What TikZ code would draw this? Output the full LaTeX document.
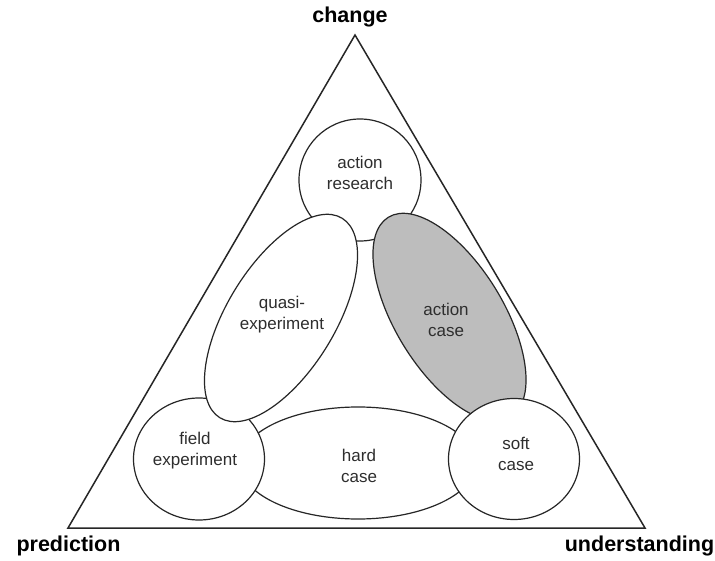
\documentclass[tikz,border=0pt]{standalone}
\usepackage{fontspec}
\setmainfont{Liberation Sans}
\definecolor{lineclr}{HTML}{262626}
\definecolor{txtclr}{HTML}{2E2E2E}
\definecolor{shade}{HTML}{BDBDBD}
\tikzset{
  outline/.style={draw=lineclr, line width=1.2pt, fill=white},
  inner/.style={text=txtclr, align=center, font=\fontsize{17}{21}\selectfont, inner sep=0pt},
  corner/.style={text=black, font=\bfseries\fontsize{21.5}{24}\selectfont, inner sep=0pt}
}
\begin{document}
\begin{tikzpicture}[x=1pt,y=1pt]
\useasboundingbox (0,0) rectangle (715,560);
\fill[white] (0,0) rectangle (715,560);
% triangle
\coordinate (apex) at (355,525);
\coordinate (bl) at (68,32);
\coordinate (br) at (645,32);
\draw[draw=lineclr, line width=1.5pt, line join=miter] (apex) -- (bl) -- (br) -- cycle;
% shapes (back to front)
\draw[outline] (360,380) ellipse [x radius=61, y radius=61];
\draw[outline] (358,97) ellipse [x radius=118, y radius=56];
\draw[outline] (199,101) ellipse [x radius=65.5, y radius=61];
\draw[outline, rotate around={58.5:(281,242)}] (281,242) ellipse [x radius=117, y radius=54];
\draw[outline, fill=shade, rotate around={121.5:(449.5,243)}] (449.5,243) ellipse [x radius=117, y radius=54];
\draw[outline] (514,101) ellipse [x radius=65.5, y radius=60.5];
% texts
\node[inner] (ar) at (360,387) {action\\research};
\node[inner] (qe) at (282,245) {quasi-\\experiment};
\node[inner] (ac) at (446,240) {action\\case};
\node[inner] (fe) at (195,109) {field\\experiment};
\node[inner] (hc) at (359,94) {hard\\case};
\node[inner] (sc) at (516,106) {soft\\case};
\node[corner] (chg) at (350,543) {change};
\node[corner] (pred) at (68.5,14) {prediction};
\node[corner] (und) at (639.5,14) {understanding};
\end{tikzpicture}
\end{document}
